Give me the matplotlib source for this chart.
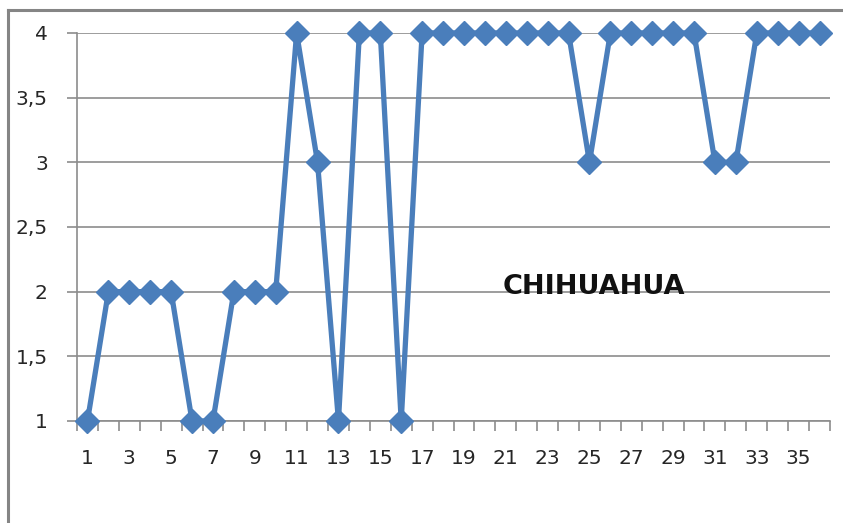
import matplotlib
matplotlib.use("Agg")
import matplotlib.pyplot as plt
from matplotlib.lines import Line2D
from matplotlib.ticker import FuncFormatter, MultipleLocator

# Data
positions = list(range(1, 37))
scores = [1, 2, 2, 2, 2, 1, 1, 2, 2, 2,
          4, 3, 1, 4, 4, 1, 4, 4, 4, 4,
          4, 4, 4, 4, 3, 4, 4, 4, 4, 4,
          3, 3, 4, 4, 4, 4]
x_labels = [str(p) for p in positions[::2]]
label = "CHIHUAHUA"

BLUE = "#4A7EBB"
GRID = "#8C8C8C"

fig = plt.figure(figsize=(8.43, 5.23), dpi=100)
ax = fig.add_axes([77 / 843, 1 - 421 / 523, 753 / 843, 388 / 523])

ax.plot(positions, scores, color=BLUE, lw=3.8, marker="D", ms=12,
        markerfacecolor=BLUE, markeredgecolor=BLUE, clip_on=False, zorder=3)

ax.set_xlim(0.5, 36.5)
ax.set_ylim(1, 4)

# y axis: ticks every 0.5, decimal comma
ax.yaxis.set_major_locator(MultipleLocator(0.5))
ax.yaxis.set_major_formatter(FuncFormatter(lambda v, _: f"{v:g}".replace(".", ",")))
ax.grid(True, axis="y", color=GRID, lw=1.2)
ax.set_axisbelow(True)

# x axis: labels on every other category, tick marks between categories
ax.set_xticks(positions[::2])
ax.set_xticklabels(x_labels)
ax.set_xticks([p + 0.5 for p in range(0, 37)], minor=True)
ax.tick_params(axis="x", which="major", length=0, pad=20)
ax.tick_params(axis="x", which="minor", length=7, color=GRID, width=1.2)
ax.tick_params(axis="y", length=7, color=GRID, width=1.2, pad=14)
ax.tick_params(labelsize=14.5, labelcolor="#262626")

for side in ("top", "right"):
    ax.spines[side].set_visible(False)
for side in ("left", "bottom"):
    ax.spines[side].set_color(GRID)
    ax.spines[side].set_linewidth(1.2)

ax.text(0.687, 0.345, label, transform=ax.transAxes, ha="center", va="center",
        fontsize=19.5, fontweight="bold", color="#111111")

# outer chart frame (top and left edges visible)
fig.add_artist(Line2D([8 / 843, 1], [1 - 9.5 / 523, 1 - 9.5 / 523],
                      color="#858585", lw=2.2, transform=fig.transFigure))
fig.add_artist(Line2D([8 / 843, 8 / 843], [0, 1 - 9.5 / 523],
                      color="#858585", lw=2.2, transform=fig.transFigure))

fig.savefig("out.png", dpi=100)
